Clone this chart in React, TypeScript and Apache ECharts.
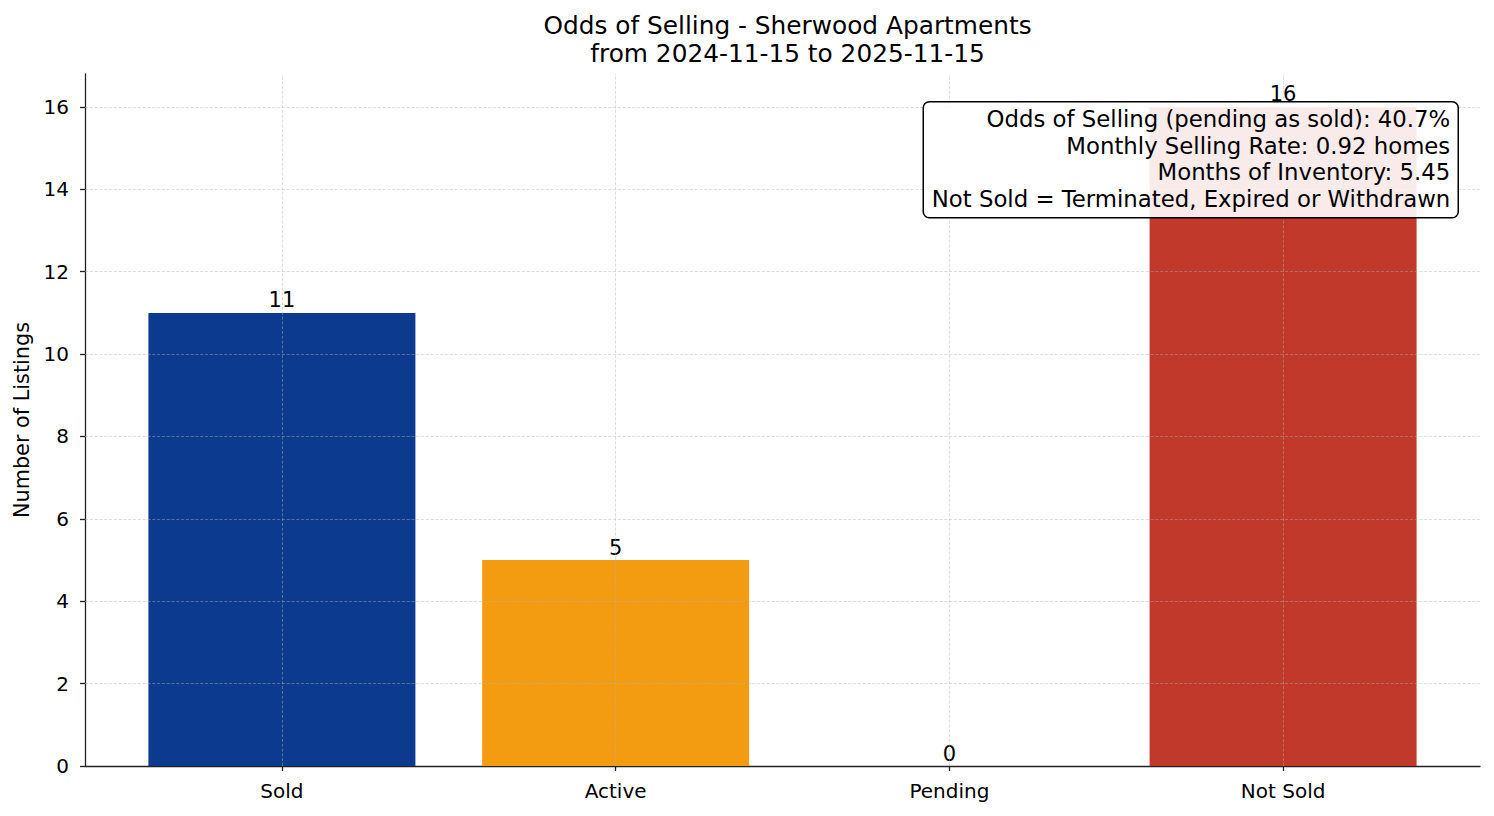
import { useEffect, useRef } from "react";
import * as echarts from "echarts";

const categories = ["Sold", "Active", "Pending", "Not Sold"];
const counts = [11, 5, 0, 16];
const barColors = ["#0b3a8e", "#f39c12", "#8e44ad", "#c0392b"];
const yTicks = [0, 2, 4, 6, 8, 10, 12, 14, 16];
const statLines = [
  "Odds of Selling (pending as sold): 40.7%",
  "Monthly Selling Rate: 0.92 homes",
  "Months of Inventory: 5.45",
  "Not Sold = Terminated, Expired or Withdrawn"
];

const FONT = "'DejaVu Sans', sans-serif";
const X_MIN = -0.59;
const X_MAX = 3.59;
const GRID = { left: 85, right: 14, top: 74, bottom: 50 };
const GRID_LINE = { color: "rgba(176, 176, 176, 0.55)", type: "dashed" as const, width: 0.8 };
const AXIS_LINE = { color: "#222", width: 1.3 };

function buildOption(width: number): echarts.EChartsCoreOption {
  const plotWidth = width - GRID.left - GRID.right;
  const barWidth = (0.8 / (X_MAX - X_MIN)) * plotWidth;
  const indices = categories.map((_, i) => i);

  return {
    animation: false,
    backgroundColor: "#ffffff",
    textStyle: { fontFamily: FONT },
    title: {
      text: "Odds of Selling - Sherwood Apartments\nfrom 2024-11-15 to 2025-11-15",
      left: GRID.left + plotWidth / 2,
      top: 6,
      textAlign: "center",
      textStyle: { fontFamily: FONT, fontSize: 24.8, fontWeight: "normal", color: "#000", lineHeight: 28 }
    },
    grid: { ...GRID, containLabel: false },
    xAxis: {
      type: "value",
      min: X_MIN,
      max: X_MAX,
      axisLine: { show: true, lineStyle: AXIS_LINE },
      axisTick: { show: true, inside: false, length: 5, customValues: indices, lineStyle: AXIS_LINE },
      axisLabel: {
        customValues: indices,
        formatter: (v: number) => categories[Math.round(v)] ?? "",
        color: "#000",
        fontSize: 20,
        fontFamily: FONT,
        margin: 15
      },
      splitLine: { show: false }
    },
    yAxis: {
      type: "value",
      min: 0,
      max: 16.8,
      name: "Number of Listings",
      nameLocation: "middle",
      nameGap: 50,
      nameTextStyle: { color: "#000", fontSize: 20.8, fontFamily: FONT },
      axisLine: { show: true, onZero: false, lineStyle: AXIS_LINE },
      axisTick: { show: true, inside: false, length: 5, customValues: yTicks, lineStyle: AXIS_LINE },
      axisLabel: { customValues: yTicks, color: "#000", fontSize: 20, fontFamily: FONT, margin: 16 },
      splitLine: { show: false }
    },
    series: [
      {
        type: "bar",
        barWidth,
        data: counts.map((value, i) => ({
          value: [i, value],
          itemStyle: { color: barColors[i] }
        })),
        label: {
          show: true,
          position: "top",
          distance: 2,
          formatter: (p: { value: number[] }) => String(p.value[1]),
          color: "#000",
          fontSize: 21,
          fontFamily: FONT
        },
        markLine: {
          silent: true,
          symbol: "none",
          label: { show: false },
          lineStyle: GRID_LINE,
          z: 5,
          data: [
            ...indices.map((i) => ({ xAxis: i })),
            ...yTicks.slice(1).map((t) => ({ yAxis: t }))
          ]
        }
      }
    ],
    graphic: [
      {
        type: "group",
        right: 35,
        top: 101,
        z: 100,
        children: [
          {
            type: "rect",
            shape: { x: 0, y: 0, width: 535, height: 116, r: 6 },
            style: { fill: "rgba(255, 255, 255, 0.9)", stroke: "#000", lineWidth: 1.5 },
            z: 100
          },
          {
            type: "text",
            x: 527,
            y: 4,
            style: {
              text: statLines.join("\n"),
              align: "right",
              verticalAlign: "top",
              font: `22.8px ${FONT}`,
              lineHeight: 26.5,
              fill: "#000"
            },
            z: 101
          }
        ]
      }
    ]
  };
}

export default function App() {
  const hostRef = useRef<HTMLDivElement>(null);

  useEffect(() => {
    document.body.style.margin = "0";
    const host = hostRef.current;
    if (host === null) return;
    const chart = echarts.init(host, undefined, { renderer: "svg" });
    chart.setOption(buildOption(host.clientWidth));
    const onResize = () => {
      chart.resize();
      chart.setOption(buildOption(host.clientWidth));
    };
    window.addEventListener("resize", onResize);
    return () => {
      window.removeEventListener("resize", onResize);
      chart.dispose();
    };
  }, []);

  return <div ref={hostRef} style={{ width: 1494, height: 816 }} />;
}
